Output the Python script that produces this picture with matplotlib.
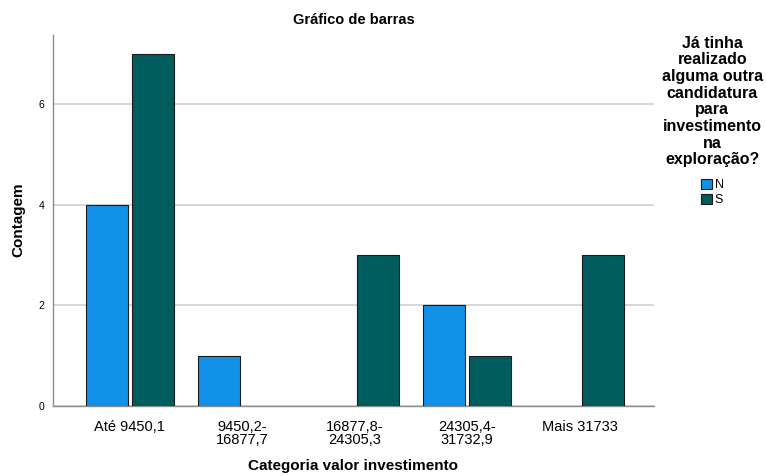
import matplotlib
matplotlib.use("Agg")
import matplotlib.pyplot as plt
import numpy as np

categories = ["Até 9450,1", "9450,2-\n16877,7", "16877,8-\n24305,3",
              "24305,4-\n31732,9", "Mais 31733"]
counts_n = [4, 1, 0, 2, 0]
counts_s = [7, 0, 3, 1, 3]
series = ["N", "S"]
colors = ["#1192e8", "#005d5d"]

plt.rcParams['font.family'] = ['Liberation Sans', 'DejaVu Sans']

fig = plt.figure(figsize=(7.66, 4.76), dpi=100)
ax = fig.add_axes([0.0692, 0.147, 0.7846, 0.7795])

x = np.arange(len(categories))
w = 0.373
off = 0.204
handles = []
for vals, sgn, col, lab in zip([counts_n, counts_s], [-1, 1], colors, series):
    v = np.array(vals, dtype=float)
    mask = v > 0
    b = ax.bar(x[mask] + sgn * off, v[mask], width=w, color=col,
               edgecolor="#1a1a1a", linewidth=0.8, label=lab, zorder=3)
    handles.append(b)

ax.set_xlim(-0.684, 4.66)
ax.set_ylim(0, 7.37)
ax.set_yticks([0, 2, 4, 6])
ax.yaxis.grid(True, color="#d0d0d0", linewidth=1.2, zorder=0)
ax.set_xticks(x)
ax.set_xticklabels(categories, fontsize=10.5, linespacing=0.9)
ax.tick_params(axis="both", length=0)
ax.tick_params(axis="y", labelsize=7.5, pad=6)
ax.tick_params(axis="x", pad=10)
for side in ["top", "right"]:
    ax.spines[side].set_visible(False)
for side in ["left", "bottom"]:
    ax.spines[side].set_color("#8c8c8c")
    ax.spines[side].set_linewidth(1.0)

fig.text(353.5 / 766, 1 - 20 / 476, "Gráfico de barras", fontsize=10.5,
         fontweight="bold", ha="center", va="center")
fig.text(18 / 766, 1 - 220 / 476, "Contagem", fontsize=11, fontweight="bold",
         rotation=90, ha="center", va="center")
fig.text(353.5 / 766, 1 - 466 / 476, "Categoria valor investimento",
         fontsize=11, fontweight="bold", ha="center", va="center")

leg = fig.legend(handles=handles, labels=series,
                 title="Já tinha\nrealizado\nalguma outra\ncandidatura\npara\ninvestimento\nna\nexploração?",
                 loc="upper center", bbox_to_anchor=(0.93, 0.925),
                 frameon=False, fontsize=9, handlelength=0.9,
                 handleheight=0.9, handletextpad=0.2, labelspacing=0.2,
                 title_fontproperties={"size": 11.5, "weight": "bold"},
                 borderpad=0, borderaxespad=0)
leg.get_title().set_multialignment("center")
leg.get_title().set_linespacing(1.14)
leg._legend_box.sep = 8

fig.savefig("out.png", dpi=100)
